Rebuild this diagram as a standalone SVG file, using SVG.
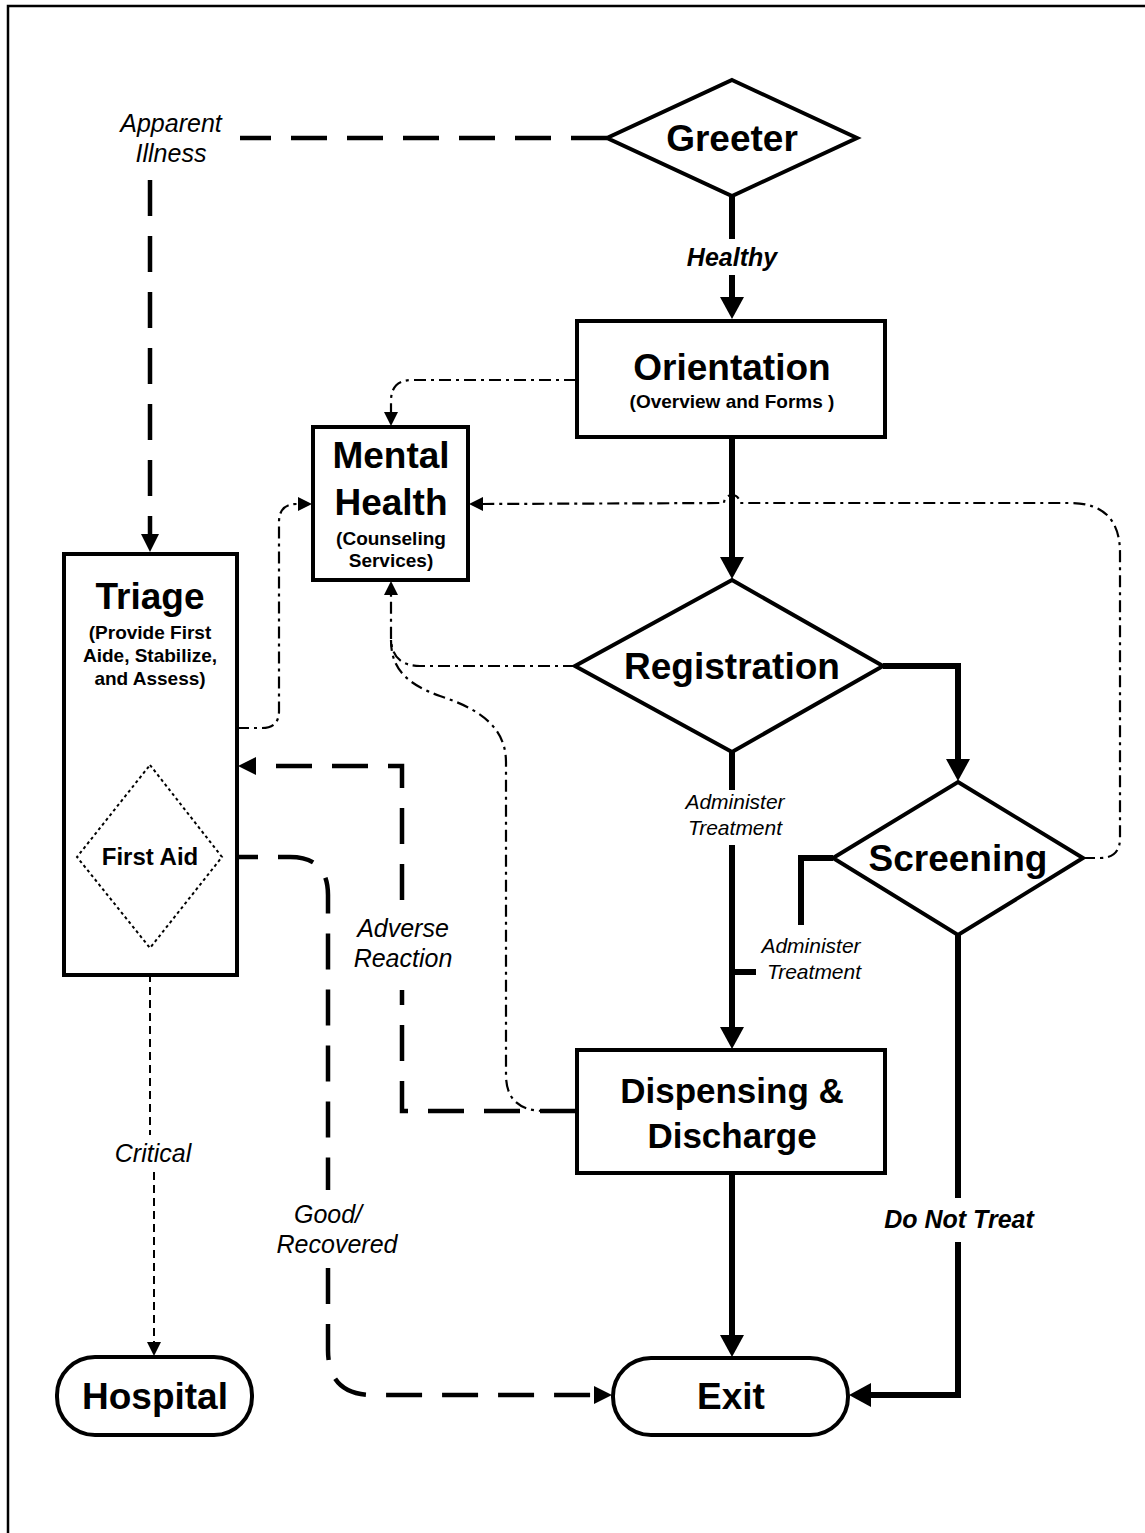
<svg xmlns="http://www.w3.org/2000/svg" width="1145" height="1533" viewBox="0 0 1145 1533">
  <style>
    text { font-family: "Liberation Sans", Arial, Helvetica, sans-serif; fill: #000; text-anchor: middle; }
    .title { font-weight: bold; font-size: 37px; }
    .sub { font-weight: bold; font-size: 19px; }
    .small-title { font-weight: bold; font-size: 24px; }
    .lbl { font-style: italic; font-size: 25px; }
    .lbl-s { font-style: italic; font-size: 21px; }
    .lbl-b { font-style: italic; font-weight: bold; font-size: 25px; }
    .node { fill: #fff; stroke: #000; stroke-width: 4; stroke-linejoin: miter; }
    .node-dot { fill: none; stroke: #000; stroke-width: 2; stroke-dasharray: 3 3; }
    .solid { fill: none; stroke: #000; stroke-width: 6; stroke-linejoin: miter; }
    .dash { fill: none; stroke: #000; stroke-width: 4.5; stroke-dasharray: 36 20; }
    .dashdot { fill: none; stroke: #000; stroke-width: 2.2; stroke-dasharray: 12 5 3 5; }
    .fine { fill: none; stroke: #000; stroke-width: 2; stroke-dasharray: 8 5; }
  </style>
  <defs>
    <marker id="arrow-solid" markerUnits="userSpaceOnUse" markerWidth="24" markerHeight="24" refX="1" refY="12" orient="auto">
      <path d="M0,0 L22,12 L0,24 Z" fill="#000"/>
    </marker>
    <marker id="arrow-dash" markerUnits="userSpaceOnUse" markerWidth="18" markerHeight="18" refX="1" refY="9" orient="auto">
      <path d="M0,0 L18,9 L0,18 Z" fill="#000"/>
    </marker>
    <marker id="arrow-thin" markerUnits="userSpaceOnUse" markerWidth="14" markerHeight="14" refX="1" refY="7" orient="auto">
      <path d="M0,0 L14,7 L0,14 Z" fill="#000"/>
    </marker>
  </defs>

  <rect width="1145" height="1533" fill="#fff"/>
  <!-- page frame (continues past the right and bottom edges) -->
  <path d="M8,1540 L8,6 L1150,6" fill="none" stroke="#000" stroke-width="2.5"/>

  <g id="connectors">
    <!-- Greeter -> Orientation (Healthy) -->
    <path class="solid" d="M732,196 L732,239"/>
    <path class="solid" d="M732,275 L732,298" marker-end="url(#arrow-solid)"/>
    <!-- Orientation -> Registration -->
    <path class="solid" d="M732,437 L732,558" marker-end="url(#arrow-solid)"/>
    <!-- Registration -> Screening -->
    <path class="solid" d="M883,666 L958,666 L958,760" marker-end="url(#arrow-solid)"/>
    <!-- Registration -> Dispensing (Administer Treatment) -->
    <path class="solid" d="M732,752 L732,790"/>
    <path class="solid" d="M732,845 L732,1028" marker-end="url(#arrow-solid)"/>
    <!-- Screening -> Dispensing (Administer Treatment) -->
    <path class="solid" d="M833,858 L801,858 L801,925"/>
    <path class="solid" d="M732,972 L756,972"/>
    <!-- Screening -> Exit (Do Not Treat) -->
    <path class="solid" d="M958,935 L958,1198"/>
    <path class="solid" d="M958,1242 L958,1395 L870,1395" marker-end="url(#arrow-solid)"/>
    <!-- Dispensing -> Exit -->
    <path class="solid" d="M732,1173 L732,1336" marker-end="url(#arrow-solid)"/>

    <!-- Greeter -> Triage (Apparent Illness) -->
    <path class="dash" d="M607,138 L240,138"/>
    <path class="dash" d="M150,180 L150,535" marker-end="url(#arrow-dash)"/>
    <!-- Dispensing -> Triage (Adverse Reaction) -->
    <path class="dash" d="M576,1111 L402,1111 L402,990"/>
    <path class="dash" d="M402,900 L402,766 L255,766" marker-end="url(#arrow-dash)"/>
    <!-- First Aid -> Exit (Good/Recovered) -->
    <path class="dash" d="M222,857 L290,857 Q328,857 328,895 L328,1190"/>
    <path class="dash" d="M328,1268 L328,1350 Q328,1395 373,1395 L595,1395" marker-end="url(#arrow-dash)"/>
    <!-- First Aid -> Hospital (Critical) -->
    <path class="fine" d="M150,948 L150,1135"/>
    <path class="fine" d="M154,1172 L154,1343" marker-end="url(#arrow-thin)"/>

    <!-- Mental Health referrals -->
    <path class="dashdot" d="M576,380 L412,380 Q391,380 391,401 L391,413" marker-end="url(#arrow-thin)"/>
    <path class="dashdot" d="M237,728 L262,728 Q279,728 279,711 L279,522 Q279,504 297,504 L299,504" marker-end="url(#arrow-thin)"/>
    <path class="dashdot" d="M1083,858 L1100,858 Q1120,858 1120,838 L1120,553 Q1120,503 1070,503 L740,503 A8,8 0 0 0 724,503 L482,504" marker-end="url(#arrow-thin)"/>
    <path class="dashdot" d="M575,666 L420,666 Q391,666 391,637 L391,594" marker-end="url(#arrow-thin)"/>
    <path class="dashdot" d="M576,1111 L545,1111 Q506,1111 506,1075 L506,762 C506,722 470,706 440,696 C406,684 391,668 391,640"/>
  </g>

  <!-- connector labels -->
  <g id="labels">
    <text class="lbl" x="171" y="132">Apparent</text>
    <text class="lbl" x="171" y="162">Illness</text>
    <text class="lbl-b" x="732" y="266">Healthy</text>
    <text class="lbl-s" x="735" y="809">Administer</text>
    <text class="lbl-s" x="735" y="835">Treatment</text>
    <text class="lbl-s" x="811" y="953">Administer</text>
    <text class="lbl-s" x="814" y="979">Treatment</text>
    <text class="lbl" x="403" y="937">Adverse</text>
    <text class="lbl" x="403" y="967">Reaction</text>
    <text class="lbl" x="153" y="1162">Critical</text>
    <text class="lbl" x="328" y="1223">Good/</text>
    <text class="lbl" x="337" y="1253">Recovered</text>
    <text class="lbl-b" x="959" y="1228">Do Not Treat</text>
  </g>

  <g id="greeter">
    <polygon class="node" points="732,80 857,138 732,196 607,138"/>
    <text class="title" x="732" y="151">Greeter</text>
  </g>

  <g id="orientation">
    <rect class="node" x="577" y="321" width="308" height="116"/>
    <text class="title" x="732" y="380">Orientation</text>
    <text class="sub" x="732" y="408">(Overview and Forms )</text>
  </g>

  <g id="mental-health">
    <rect class="node" x="313" y="427" width="155" height="153"/>
    <text class="title" x="391" y="468">Mental</text>
    <text class="title" x="391" y="515">Health</text>
    <text class="sub" x="391" y="545">(Counseling</text>
    <text class="sub" x="391" y="567">Services)</text>
  </g>

  <g id="triage">
    <rect class="node" x="64" y="554" width="173" height="421"/>
    <text class="title" x="150" y="609">Triage</text>
    <text class="sub" x="150" y="639">(Provide First</text>
    <text class="sub" x="150" y="662">Aide, Stabilize,</text>
    <text class="sub" x="150" y="685">and Assess)</text>
  </g>

  <g id="first-aid">
    <polygon class="node-dot" points="150,765 222,857 150,948 77,857"/>
    <text class="small-title" x="150" y="865">First Aid</text>
  </g>

  <g id="registration">
    <polygon class="node" points="732,580 883,666 732,752 575,666"/>
    <text class="title" x="732" y="679">Registration</text>
  </g>

  <g id="screening">
    <polygon class="node" points="958,782 1083,858 958,935 833,858"/>
    <text class="title" x="958" y="871">Screening</text>
  </g>

  <g id="dispensing">
    <rect class="node" x="577" y="1050" width="308" height="123"/>
    <text class="title" x="732" y="1103" style="font-size:35px">Dispensing &amp;</text>
    <text class="title" x="732" y="1148" style="font-size:35px">Discharge</text>
  </g>

  <g id="exit">
    <rect class="node" x="613" y="1358" width="235" height="77" rx="38" ry="38"/>
    <text class="title" x="731" y="1409">Exit</text>
  </g>

  <g id="hospital">
    <rect class="node" x="57" y="1357" width="195" height="78" rx="38" ry="38"/>
    <text class="title" x="155" y="1409">Hospital</text>
  </g>
</svg>
